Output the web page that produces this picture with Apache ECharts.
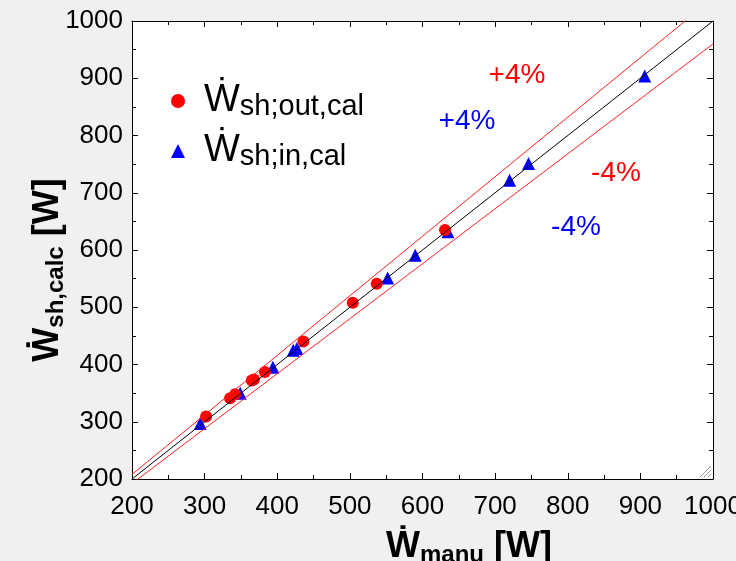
<!DOCTYPE html>
<html lang="en">
<head>
    <meta charset="UTF-8">
    <title>W calc vs manu</title>
    <script src="https://cdn.jsdelivr.net/npm/echarts@6/dist/echarts.min.js"></script>
    <style>
        html, body { margin: 0; padding: 0; background: #f0f0f0; }
        #main { width: 736px; height: 561px; }
    </style>
</head>
<body>
<div id="main"></div>
<script>
    // data
    var outX = [302, 335, 342, 365, 368, 383, 436, 504, 537, 631];
    var outY = [309, 341, 348, 372, 374, 387, 440, 508, 541, 635];
    var inX = [294, 349, 394, 422, 427, 552, 590, 635, 720, 746, 906];
    var inY = [297, 350, 395, 425, 428, 551, 591, 632, 722, 751, 904];
    var tickValues = [200, 300, 400, 500, 600, 700, 800, 900, 1000];
    var diagX = [200, 1000];
    var band = 4; // percent

    var font = "'Liberation Sans', Arial, 'DejaVu Sans', sans-serif";

    function pairs(xs, ys) {
        var out = [];
        for (var i = 0; i < xs.length; i++) out.push([xs[i], ys[i]]);
        return out;
    }

    var myChart = echarts.init(document.getElementById('main'), null, { renderer: 'canvas' });

    var axisBase = {
        type: 'value',
        min: tickValues[0],
        max: tickValues[tickValues.length - 1],
        interval: 100,
        axisLine: { show: true, onZero: false, lineStyle: { color: '#000', width: 1 } },
        axisTick: { show: true, inside: true, length: 6, lineStyle: { color: '#000' } },
        minorTick: { show: true, splitNumber: 2, length: 4, lineStyle: { color: '#000' } },
        splitLine: { show: false },
        axisLabel: {
            show: true, color: '#000', fontSize: 26, fontFamily: font,
            formatter: function (v) { return String(v); }
        }
    };

    function ax(extra) {
        return echarts.util.merge(echarts.util.clone(axisBase), extra, true);
    }

    // bold axis title rich styles
    var titleRich = {
        w: { fontSize: 36, fontWeight: 'bold', fontFamily: font, fill: '#000', lineHeight: 40 },
        s: { fontSize: 24, fontWeight: 'bold', fontFamily: font, fill: '#000', lineHeight: 24, verticalAlign: 'bottom' }
    };

    function note(text, color, cx, cy) {
        return {
            type: 'text', x: cx, y: cy,
            style: { text: text, fill: color, fontSize: 28, fontFamily: font, align: 'center', verticalAlign: 'middle' }
        };
    }

    option = {
        backgroundColor: '#f0f0f0',
        animation: false,
        grid: {
            left: 132, right: 23, top: 21, bottom: 82,
            show: true, backgroundColor: '#fff', borderWidth: 0,
            outerBoundsMode: 'none'
        },
        xAxis: [
            ax({ position: 'bottom', axisLabel: { margin: 15 } }),
            ax({ position: 'top', axisLabel: { show: false } })
        ],
        yAxis: [
            ax({ position: 'left', axisLabel: { margin: 9 } }),
            ax({ position: 'right', axisLabel: { show: false } })
        ],
        legend: {
            data: ['out', 'in'],
            orient: 'vertical',
            left: 166,
            top: 77,
            itemGap: 11,
            itemWidth: 14,
            itemHeight: 14,
            selectedMode: false,
            formatter: function (name) {
                return name === 'out' ? '{w|Ẇ}{s|sh;out,cal}' : '{w|Ẇ}{s|sh;in,cal}';
            },
            textStyle: {
                fontFamily: font,
                color: '#000',
                rich: {
                    w: { fontSize: 38, fontFamily: font, color: '#000', lineHeight: 40, padding: [0, 0, 0, 14] },
                    s: { fontSize: 29, fontFamily: font, color: '#000', lineHeight: 22, verticalAlign: 'bottom' }
                }
            }
        },
        graphic: [
            note('+4%', '#ff0000', 517, 75),
            note('+4%', '#0000ff', 467, 121),
            note('-4%', '#ff0000', 616, 173),
            note('-4%', '#0000ff', 576, 227),
            {
                type: 'text', x: 469, y: 547,
                style: { text: '{w|Ẇ}{s|manu}{w| [W]}', align: 'center', verticalAlign: 'middle', rich: titleRich }
            },
            {
                type: 'text', x: 48, y: 270, rotation: Math.PI / 2,
                style: { text: '{w|Ẇ}{s|sh,calc}{w| [W]}', align: 'center', verticalAlign: 'middle', rich: titleRich }
            },
            // resize grip in the corner
            { type: 'line', shape: { x1: 700, y1: 477, x2: 711, y2: 466 }, style: { stroke: '#999', lineWidth: 1 } },
            { type: 'line', shape: { x1: 704, y1: 477, x2: 711, y2: 470 }, style: { stroke: '#999', lineWidth: 1 } },
            { type: 'line', shape: { x1: 708, y1: 477, x2: 711, y2: 474 }, style: { stroke: '#999', lineWidth: 1 } }
        ],
        series: [
            {
                type: 'line', data: diagX.map(function (x) { return [x, x]; }),
                showSymbol: false, silent: true, clip: true,
                lineStyle: { color: '#000', width: 1 }
            },
            {
                type: 'line', data: diagX.map(function (x) { return [x, x * (1 + band / 100)]; }),
                showSymbol: false, silent: true, clip: true,
                lineStyle: { color: '#ff2020', width: 1 }
            },
            {
                type: 'line', data: diagX.map(function (x) { return [x, x * (1 - band / 100)]; }),
                showSymbol: false, silent: true, clip: true,
                lineStyle: { color: '#ff2020', width: 1 }
            },
            {
                name: 'in', type: 'scatter', data: pairs(inX, inY),
                symbol: 'triangle', symbolSize: 13,
                itemStyle: { color: '#0000ff', opacity: 1 }
            },
            {
                name: 'out', type: 'scatter', data: pairs(outX, outY),
                symbol: 'circle', symbolSize: 12,
                itemStyle: { color: '#ff0000', opacity: 1 }
            }
        ]
    };
    myChart.setOption(option);
</script>
</body>
</html>
